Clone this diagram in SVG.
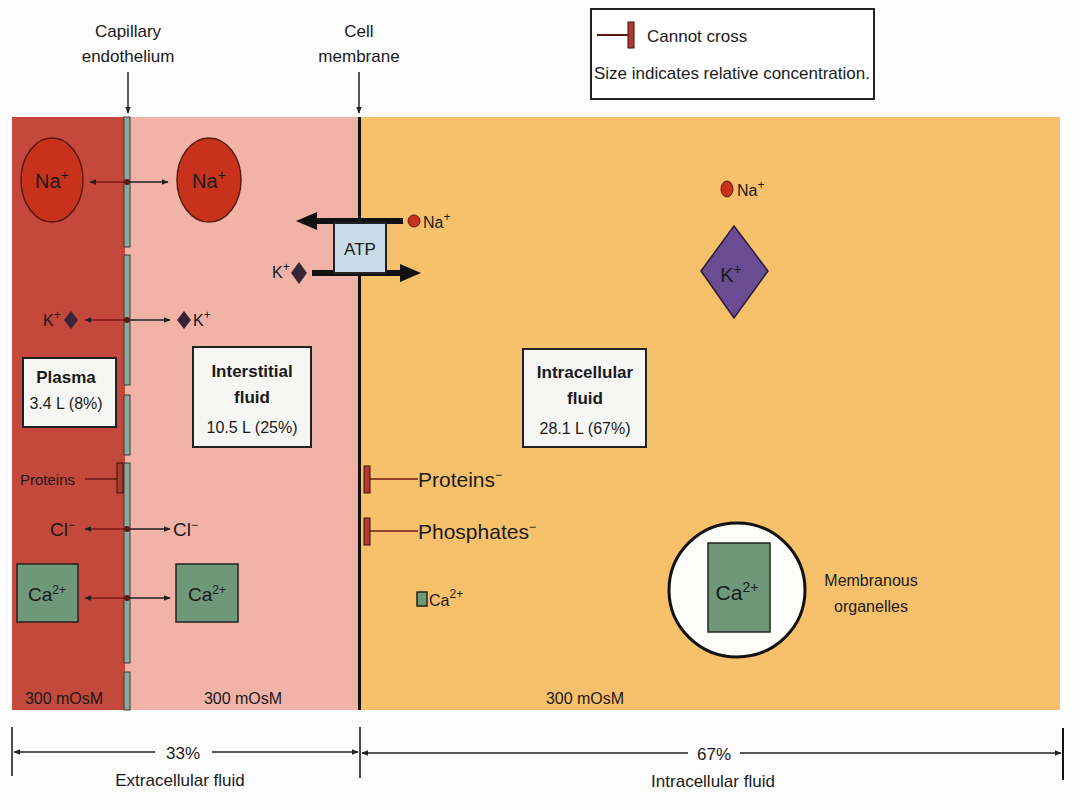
<svg xmlns="http://www.w3.org/2000/svg" width="1080" height="810" viewBox="0 0 1080 810">
<defs>
<style>
text{font-family:"Liberation Sans",Arial,sans-serif;fill:#1a1a1a}
.lab{font-size:17px;text-anchor:middle}
.b{font-weight:bold;font-size:17px;text-anchor:middle}
.m{font-size:16px;text-anchor:middle}
.ion{font-size:20px;text-anchor:middle}
.seg{fill:#8ea89c;stroke:#3a3a3a;stroke-width:1}
.box{fill:#f6f6f4;stroke:#222;stroke-width:2}
.ca{fill:#6e9878;stroke:#222;stroke-width:1.5}
.bar{fill:#b03a2e;stroke:#3a1010;stroke-width:1}
.thin{stroke:#222;stroke-width:1.5;fill:none}
</style>
<marker id="ah" viewBox="0 0 10 10" refX="9" refY="5" markerWidth="7" markerHeight="7" orient="auto-start-reverse" markerUnits="userSpaceOnUse"><path d="M0,1 L10,5 L0,9 Z" fill="#222"/></marker>
</defs>
<rect width="1080" height="810" fill="#fcfcfc"/>

<g id="compartments">
<rect x="12" y="117" width="113" height="593" fill="#c4483c"/>
<rect x="125" y="117" width="234" height="593" fill="#f1b3a8"/>
<rect x="359" y="117" width="701" height="593" fill="#f7c16c"/>
<rect x="358" y="117" width="3" height="593" fill="#111"/>
</g>

<g id="endothelium">
<rect class="seg" x="124" y="117" width="6" height="130"/>
<rect class="seg" x="124" y="255" width="6" height="130"/>
<rect class="seg" x="124" y="395" width="6" height="60"/>
<rect class="seg" x="124" y="463" width="6" height="200"/>
<rect class="seg" x="124" y="672" width="6" height="38"/>
</g>

<g id="top-labels">
<text class="lab" x="128" y="37">Capillary</text>
<text class="lab" x="128" y="62">endothelium</text>
<text class="lab" x="359" y="37">Cell</text>
<text class="lab" x="359" y="62">membrane</text>
</g>

<g id="legend">
<rect x="591" y="9" width="283" height="90" fill="#fff" stroke="#222" stroke-width="2"/>
<line x1="597" y1="35" x2="628" y2="35" stroke="#5a1a14" stroke-width="2"/>
<rect class="bar" x="628" y="22" width="6" height="26"/>
<text x="647" y="42" style="font-size:17px">Cannot cross</text>
<text x="594" y="79" style="font-size:17px">Size indicates relative concentration.</text>
</g>

<g id="connectors">
<line x1="128" y1="72" x2="128" y2="113" class="thin" marker-end="url(#ah)"/>
<line x1="359" y1="72" x2="359" y2="113" class="thin" marker-end="url(#ah)"/>
<line x1="90" y1="182" x2="127" y2="182" stroke="#7a1a14" stroke-width="1.5" marker-start="url(#ah)"/>
<line x1="127" y1="182" x2="168" y2="182" class="thin" marker-end="url(#ah)"/>
<line x1="85" y1="320" x2="127" y2="320" stroke="#7a1a14" stroke-width="1.5" marker-start="url(#ah)"/>
<line x1="127" y1="320" x2="170" y2="320" class="thin" marker-end="url(#ah)"/>
<line x1="85" y1="529" x2="127" y2="529" stroke="#7a1a14" stroke-width="1.5" marker-start="url(#ah)"/>
<line x1="127" y1="529" x2="170" y2="529" class="thin" marker-end="url(#ah)"/>
<line x1="85" y1="598" x2="127" y2="598" stroke="#7a1a14" stroke-width="1.5" marker-start="url(#ah)"/>
<line x1="127" y1="598" x2="170" y2="598" class="thin" marker-end="url(#ah)"/>
<circle cx="127" cy="182" r="3" fill="#5a1a14"/>
<circle cx="127" cy="320" r="3" fill="#5a1a14"/>
<circle cx="127" cy="529" r="3" fill="#5a1a14"/>
<circle cx="127" cy="598" r="3" fill="#5a1a14"/>
<line x1="403" y1="221" x2="314" y2="221" stroke="#111" stroke-width="6"/>
<path d="M296,221 L317,212 L317,230 Z" fill="#111"/>
<line x1="312" y1="273" x2="402" y2="273" stroke="#111" stroke-width="6"/>
<path d="M421,273 L400,264 L400,282 Z" fill="#111"/>
<line x1="85" y1="479" x2="117" y2="479" stroke="#6a1a14" stroke-width="1.5"/>
<line x1="370" y1="479" x2="418" y2="479" stroke="#6a1a14" stroke-width="1.5"/>
<line x1="370" y1="531" x2="418" y2="531" stroke="#6a1a14" stroke-width="1.5"/>
</g>

<g id="na-plasma">
<ellipse cx="52" cy="180" rx="31" ry="42" fill="#c8321c" stroke="#5a1a10" stroke-width="1.5"/>
<text class="ion" x="52" y="188">Na<tspan dy="-8" font-size="14">+</tspan></text>
</g>
<g id="na-interstitial">
<ellipse cx="209" cy="180" rx="32" ry="42" fill="#c8321c" stroke="#5a1a10" stroke-width="1.5"/>
<text class="ion" x="209" y="188">Na<tspan dy="-8" font-size="14">+</tspan></text>
</g>

<g id="atp-pump">
<rect x="334" y="223" width="52" height="50" fill="#c9dbe6" stroke="#222" stroke-width="2"/>
<text x="360" y="255" style="font-size:17px;text-anchor:middle">ATP</text>
<circle cx="414" cy="221" r="6" fill="#c8321c" stroke="#5a1a10"/>
<text x="423" y="228" style="font-size:16px">Na<tspan dy="-7" font-size="12">+</tspan></text>
<path d="M299,262 L307,273 L299,284 L291,273 Z" fill="#3a2438"/>
<text x="272" y="278" style="font-size:16px">K<tspan dy="-7" font-size="12">+</tspan></text>
</g>

<g id="k-plasma">
<text x="43" y="326" style="font-size:16px">K<tspan dy="-7" font-size="12">+</tspan></text>
<path d="M71,311 L78,320 L71,329 L64,320 Z" fill="#3a2438"/>
</g>
<g id="k-interstitial">
<path d="M184,311 L191,320 L184,329 L177,320 Z" fill="#3a2438"/>
<text x="193" y="326" style="font-size:16px">K<tspan dy="-7" font-size="12">+</tspan></text>
</g>

<g id="plasma-box">
<rect class="box" x="23" y="358" width="93" height="69"/>
<text class="b" x="66" y="383">Plasma</text>
<text class="m" x="66" y="409">3.4 L (8%)</text>
</g>
<g id="interstitial-box">
<rect class="box" x="193" y="347" width="118" height="100"/>
<text class="b" x="252" y="377">Interstitial</text>
<text class="b" x="252" y="403">fluid</text>
<text class="m" x="252" y="433">10.5 L (25%)</text>
</g>
<g id="intracellular-box">
<rect class="box" x="523" y="349" width="123" height="98"/>
<text class="b" x="585" y="378">Intracellular</text>
<text class="b" x="585" y="404">fluid</text>
<text class="m" x="585" y="434">28.1 L (67%)</text>
</g>

<g id="proteins-plasma">
<text x="20" y="485" style="font-size:15px">Proteins</text>
<rect class="bar" x="117" y="463" width="6" height="30"/>
</g>
<g id="cl-plasma"><text x="50" y="536" style="font-size:19px">Cl<tspan dy="-7" font-size="12">−</tspan></text></g>
<g id="cl-interstitial"><text x="173" y="536" style="font-size:19px">Cl<tspan dy="-7" font-size="12">−</tspan></text></g>

<g id="proteins-intra">
<rect class="bar" x="364" y="466" width="6" height="27"/>
<text x="418" y="487" style="font-size:21px">Proteins<tspan dy="-8" font-size="12">−</tspan></text>
</g>
<g id="phosphates-intra">
<rect class="bar" x="364" y="518" width="6" height="27"/>
<text x="418" y="539" style="font-size:21px">Phosphates<tspan dy="-8" font-size="12">−</tspan></text>
</g>

<g id="ca-plasma">
<rect class="ca" x="17" y="564" width="61" height="58"/>
<text x="47" y="601" style="font-size:19px;text-anchor:middle">Ca<tspan dy="-7" font-size="12">2+</tspan></text>
</g>
<g id="ca-interstitial">
<rect class="ca" x="176" y="564" width="62" height="58"/>
<text x="207" y="601" style="font-size:19px;text-anchor:middle">Ca<tspan dy="-7" font-size="12">2+</tspan></text>
</g>
<g id="ca-intra">
<rect class="ca" x="417" y="592" width="10" height="14" stroke-width="1"/>
<text x="429" y="606" style="font-size:16px">Ca<tspan dy="-8" font-size="12">2+</tspan></text>
</g>

<g id="na-intra">
<ellipse cx="727" cy="189" rx="6" ry="8" fill="#c8321c" stroke="#5a1a10"/>
<text x="737" y="196" style="font-size:16px">Na<tspan dy="-7" font-size="12">+</tspan></text>
</g>
<g id="k-intra">
<path d="M734,226 L768,271 L734,318 L701,271 Z" fill="#6a4c92" stroke="#2a1a3a" stroke-width="1.5"/>
<text x="731" y="282" style="font-size:20px;text-anchor:middle">K<tspan dy="-8" font-size="14">+</tspan></text>
</g>

<g id="organelle">
<ellipse cx="737" cy="590" rx="68" ry="67" fill="#fdfdfb" stroke="#111" stroke-width="3"/>
<rect class="ca" x="708" y="543" width="62" height="89"/>
<text x="737" y="600" style="font-size:21px;text-anchor:middle">Ca<tspan dy="-8" font-size="14">2+</tspan></text>
<text class="lab" x="871" y="586" style="font-size:16px">Membranous</text>
<text class="lab" x="871" y="612" style="font-size:16px">organelles</text>
</g>

<g id="osm-labels">
<text class="m" x="64" y="704">300 mOsM</text>
<text class="m" x="243" y="704">300 mOsM</text>
<text class="m" x="585" y="704">300 mOsM</text>
</g>

<g id="dimensions">
<line x1="12" y1="727" x2="12" y2="776" stroke="#111" stroke-width="1.5"/>
<line x1="360" y1="727" x2="360" y2="778" stroke="#111" stroke-width="1.5"/>
<line x1="1063" y1="728" x2="1063" y2="780" stroke="#111" stroke-width="2"/>
<line x1="155" y1="752" x2="14" y2="752" class="thin" marker-end="url(#ah)"/>
<line x1="212" y1="752" x2="358" y2="752" class="thin" marker-end="url(#ah)"/>
<line x1="688" y1="753" x2="362" y2="753" class="thin" marker-end="url(#ah)"/>
<line x1="740" y1="753" x2="1061" y2="753" class="thin" marker-end="url(#ah)"/>
<text class="m" x="183" y="759" style="font-size:17px">33%</text>
<text class="m" x="180" y="786" style="font-size:17px">Extracellular fluid</text>
<text class="m" x="714" y="760" style="font-size:17px">67%</text>
<text class="m" x="713" y="787" style="font-size:17px">Intracellular fluid</text>
</g>
</svg>
